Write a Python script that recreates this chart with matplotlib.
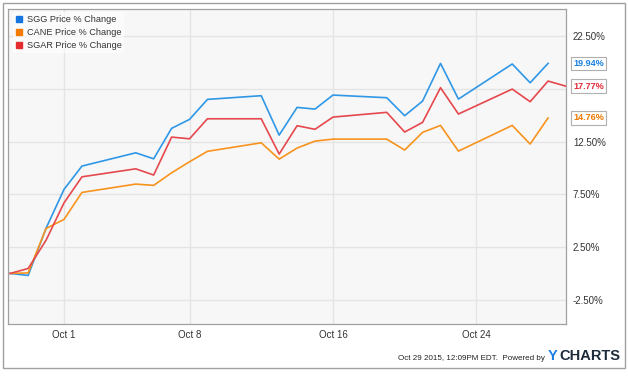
import matplotlib
matplotlib.use("Agg")
import matplotlib.pyplot as plt
from matplotlib.lines import Line2D
from matplotlib.patches import Rectangle
import pandas as pd

plt.rcParams["font.family"] = ["Liberation Sans", "DejaVu Sans"]

# trading days, Sep 28 - Oct 29 2015
dates = ["2015-09-28", "2015-09-29", "2015-09-30", "2015-10-01", "2015-10-02",
         "2015-10-05", "2015-10-06", "2015-10-07", "2015-10-08", "2015-10-09",
         "2015-10-12", "2015-10-13", "2015-10-14", "2015-10-15", "2015-10-16",
         "2015-10-19", "2015-10-20", "2015-10-21", "2015-10-22", "2015-10-23",
         "2015-10-26", "2015-10-27", "2015-10-28", "2015-10-29"]

sgg = [0, -0.19, 4.30, 7.98, 10.19, 11.45, 10.88, 13.77, 14.62, 16.52, 16.87, 13.13,
       15.76, 15.60, 16.93, 16.68, 14.97, 16.36, 19.94, 16.55, 19.88, 18.10, 19.94]
cane = [0, 0.05, 4.27, 5.13, 7.69, 8.48, 8.36, 9.55, 10.60, 11.59, 12.40, 10.85,
        11.90, 12.56, 12.75, 12.75, 11.71, 13.39, 14.05, 11.61, 14.05, 12.28, 14.76]
sgar = [0, 0.47, 3.16, 6.70, 9.17, 9.93, 9.34, 12.94, 12.78, 14.68, 14.68, 11.33,
        14.02, 13.68, 14.84, 15.29, 13.42, 14.34, 17.63, 15.13, 17.50, 16.30, 18.26, 17.77]

series_names = ["SGG Price % Change", "CANE Price % Change", "SGAR Price % Change"]
last_labels = ["19.94%", "14.76%", "17.77%"]

x_ticks = ["2015-10-01", "2015-10-08", "2015-10-16", "2015-10-24"]
x_tick_labels = ["Oct 1", "Oct 8", "Oct 16", "Oct 24"]
y_ticks = [-2.5, 2.5, 7.5, 12.5, 17.5, 22.5]
# 17.50% sits under the SGAR tag in the original, so it has no visible label
y_tick_labels = ["-2.50%", "2.50%", "7.50%", "12.50%", "", "22.50%"]

line_colors = ["#2f97e6", "#f7931e", "#e5484d"]
legend_colors = ["#1474e0", "#f57a00", "#e52c2c"]
label_colors = ["#1a80e0", "#f07800", "#e02d35"]

d = pd.to_datetime(dates)

fig = plt.figure(figsize=(6.28, 3.76), dpi=100)
ax = fig.add_axes([8 / 628, 1 - 324 / 376, 558 / 628, 315 / 376])
ax.set_facecolor("#f7f7f7")

values = [sgg, cane, sgar]
for vals, col in zip(values, line_colors):
    ax.plot(d[:len(vals)], vals, color=col, lw=1.2, zorder=3)

ax.set_xlim(pd.Timestamp("2015-09-27 21:00"), pd.Timestamp("2015-10-29 00:00"))
ax.set_ylim(-4.8, 25.1)

ax.set_xticks(pd.to_datetime(x_ticks))
ax.set_xticklabels(x_tick_labels)
ax.set_yticks(y_ticks)
ax.set_yticklabels(y_tick_labels)
ax.yaxis.tick_right()
ax.tick_params(axis="both", length=0, labelsize=7, labelcolor="#333333")
ax.tick_params(axis="y", pad=5)
ax.tick_params(axis="x", pad=4)
ax.grid(True, color="#e4e4e4", lw=1)
ax.set_axisbelow(True)
for s in ax.spines.values():
    s.set_color("#a0a0a0")
    s.set_linewidth(0.9)

# last value tags
for vals, lab, col in zip(values, last_labels, label_colors):
    ax.annotate(lab, xy=(1.0, vals[-1]), xycoords=("axes fraction", "data"),
                xytext=(5, 0), textcoords="offset points", va="center", ha="left",
                fontsize=6.5, fontweight="bold", color=col, zorder=5,
                bbox=dict(boxstyle="square,pad=0.25", fc="white", ec="#b0b0b0", lw=0.8),
                annotation_clip=False)

handles = [Line2D([], [], marker="s", ls="none", color=c, markersize=4) for c in legend_colors]
leg = ax.legend(handles, series_names, loc="upper left", bbox_to_anchor=(0.0, 1.005),
                fontsize=6.6, frameon=True, handletextpad=0.35, labelspacing=0.46,
                borderpad=0.3, handlelength=0.9)
leg.get_frame().set_facecolor("white")
leg.get_frame().set_alpha(0.6)
leg.get_frame().set_edgecolor("none")
for t in leg.get_texts():
    t.set_color("#333333")

# outer frame
fig.patches.append(Rectangle((3 / 628, 1 - 367.5 / 376), 622 / 628, 364.5 / 376,
                             transform=fig.transFigure, fill=False, ec="#a0a0a0", lw=1))

fig.text(545 / 628, 1 - 358 / 376, "Oct 29 2015, 12:09PM EDT.  Powered by", ha="right",
         va="center", fontsize=5.8, color="#222222")
fig.text(548 / 628, 1 - 356 / 376, "Y", ha="left", va="center", fontsize=10.5,
         fontweight="bold", color="#1a7ee6")
fig.text(559 / 628, 1 - 356 / 376, "CHARTS", ha="left", va="center", fontsize=10.5,
         fontweight="bold", color="#1c2a3a")

fig.savefig("out.png", dpi=100)
